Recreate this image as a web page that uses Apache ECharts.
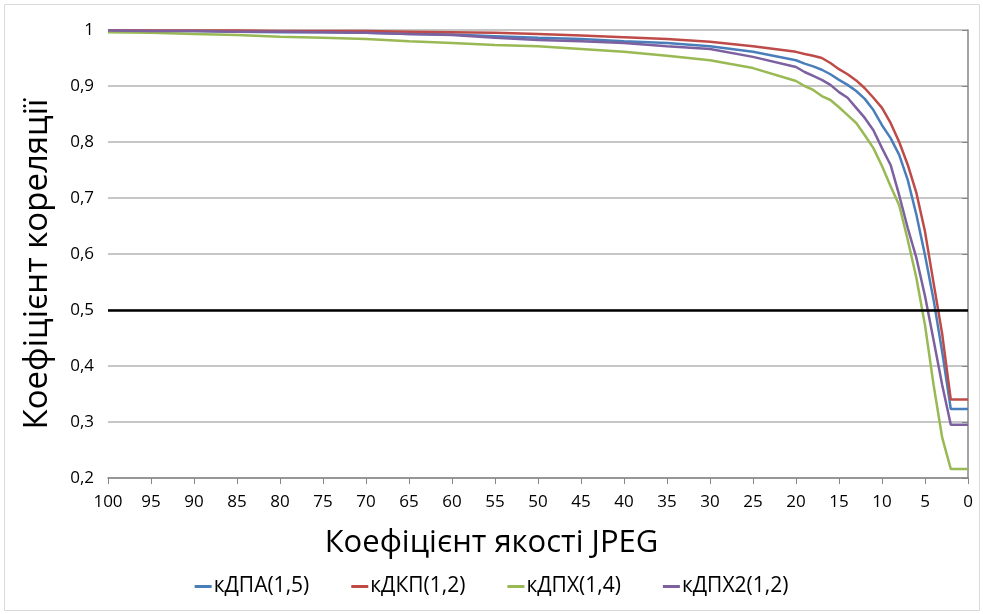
<!DOCTYPE html>
<html>
<head>
<meta charset="utf-8">
<script src="https://cdn.jsdelivr.net/npm/echarts@6/dist/echarts.min.js"></script>
<style>
  html, body { margin: 0; padding: 0; background: #fff; }
  #main { width: 983px; height: 614px; }
</style>
</head>
<body>
<div id="main"></div>
<script>
// JPEG quality values (x axis)
var quality = [100, 95, 90, 85, 80, 75, 70, 65, 60, 55, 50, 45, 40, 35, 30, 25,
  20, 19, 18, 17, 16, 15, 14, 13, 12, 11, 10, 9, 8, 7, 6, 5, 4, 3, 2, 1, 0];

var kdpa = [0.999, 0.998, 0.998, 0.997, 0.996, 0.996, 0.995, 0.993, 0.992, 0.989, 0.986, 0.984, 0.980, 0.977, 0.971, 0.961,
  0.946, 0.940, 0.935, 0.929, 0.921, 0.911, 0.902, 0.891, 0.877, 0.857, 0.830, 0.807, 0.777, 0.732, 0.670, 0.598, 0.518, 0.425, 0.323, 0.323, 0.323];

var kdkp = [0.999, 0.999, 0.999, 0.999, 0.998, 0.998, 0.998, 0.997, 0.996, 0.995, 0.993, 0.990, 0.987, 0.984, 0.979, 0.971,
  0.961, 0.957, 0.954, 0.950, 0.941, 0.930, 0.921, 0.910, 0.896, 0.879, 0.861, 0.834, 0.800, 0.759, 0.709, 0.640, 0.548, 0.457, 0.340, 0.340, 0.340];

var kdph = [0.996, 0.995, 0.993, 0.991, 0.988, 0.986, 0.984, 0.980, 0.977, 0.973, 0.971, 0.966, 0.961, 0.954, 0.946, 0.932,
  0.909, 0.900, 0.893, 0.882, 0.875, 0.862, 0.848, 0.834, 0.812, 0.789, 0.757, 0.721, 0.687, 0.625, 0.557, 0.473, 0.366, 0.272, 0.216, 0.216, 0.216];

var kdph2 = [0.999, 0.998, 0.998, 0.997, 0.997, 0.996, 0.995, 0.993, 0.991, 0.986, 0.982, 0.980, 0.977, 0.971, 0.966, 0.952,
  0.934, 0.925, 0.918, 0.911, 0.902, 0.889, 0.879, 0.861, 0.843, 0.821, 0.789, 0.759, 0.705, 0.646, 0.593, 0.525, 0.446, 0.366, 0.295, 0.295, 0.295];

var names = ['кДПА(1,5)', 'кДКП(1,2)', 'кДПХ(1,4)', 'кДПХ2(1,2)'];
var colors = ['#4a7ebb', '#be4b48', '#98b954', '#7d60a0'];

function pairs(arr) {
  return quality.map(function (q, i) { return [q, arr[i]]; });
}

var font = 'Open Sans';
var chart = echarts.init(document.getElementById('main'));

var series = [kdpa, kdkp, kdph, kdph2].map(function (arr, i) {
  return {
    name: names[i],
    type: 'line',
    data: pairs(arr),
    showSymbol: false,
    lineStyle: { width: 2.5, color: colors[i] },
    itemStyle: { color: colors[i] },
    z: 3
  };
});

// threshold 0.5
series[0].markLine = {
  silent: true,
  symbol: 'none',
  label: { show: false },
  lineStyle: { color: '#000', width: 2.5, type: 'solid' },
  data: [{ yAxis: 0.5 }]
};

chart.setOption({
  animation: false,
  textStyle: { fontFamily: font },
  title: {
    text: 'Коефіцієнт якості JPEG',
    left: 'center',
    top: 523,
    textStyle: { fontFamily: font, fontSize: 31, fontWeight: 'normal', color: '#000' }
  },
  graphic: [{
    type: 'rect',
    shape: { x: 4.5, y: 4.5, width: 975, height: 606 },
    style: { fill: 'none', stroke: '#d9d9d9', lineWidth: 1 },
    silent: true
  }],
  legend: {
    data: names,
    left: 'center',
    top: 571,
    itemGap: 42,
    itemWidth: 17,
    itemHeight: 3,
    icon: 'rect',
    textStyle: { fontFamily: font, fontSize: 21, color: '#000', padding: [0, 0, 0, -3] }
  },
  grid: { left: 108, right: 15, top: 30, bottom: 136 },
  xAxis: {
    type: 'value',
    inverse: true,
    min: 0,
    max: 100,
    interval: 5,
    axisLine: { lineStyle: { color: '#868686', width: 1.5 } },
    axisTick: { show: true, length: 6, lineStyle: { color: '#868686' } },
    axisLabel: { fontSize: 17, color: '#000', margin: 16, fontFamily: font },
    splitLine: { show: false }
  },
  yAxis: {
    type: 'value',
    min: 0.2,
    max: 1,
    interval: 0.1,
    name: 'Коефіцієнт кореляції',
    nameLocation: 'middle',
    nameRotate: 90,
    nameGap: 54,
    nameTextStyle: { fontFamily: font, fontSize: 33, color: '#000', padding: [0, 20, 0, 0] },
    axisLine: { show: true, lineStyle: { color: '#868686', width: 1.5 } },
    axisTick: { show: true, length: 6, lineStyle: { color: '#868686' } },
    axisLabel: {
      fontSize: 17, color: '#000', margin: 14, fontFamily: font,
      formatter: function (v) {
        return Math.abs(v - 1) < 1e-9 ? '1' : v.toFixed(1).replace('.', ',');
      }
    },
    splitLine: { lineStyle: { color: '#b3b3b3', width: 1.5 } }
  },
  series: series
});
</script>
</body>
</html>
